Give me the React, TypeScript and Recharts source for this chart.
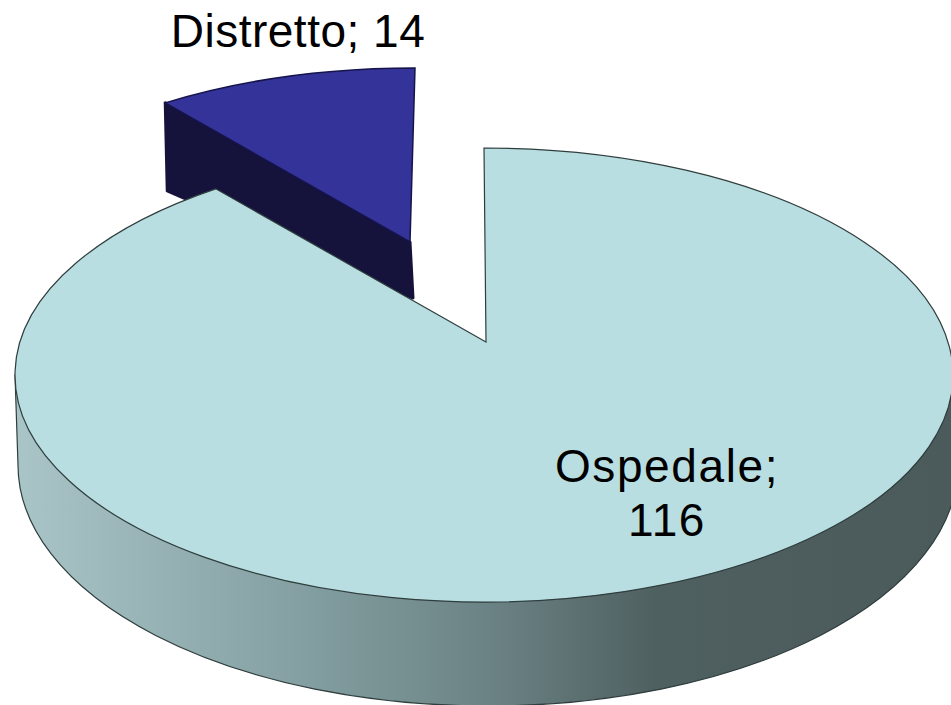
import React from 'react';
import { PieChart, Pie } from 'recharts';

const categories = ['Distretto', 'Ospedale'];
const values = [14, 116];
const rows = categories.map((name, i) => ({ name, value: values[i] }));

const WIDTH = 951;
const HEIGHT = 705;
const CX = 484;
const CY = 375;
const RADIUS = 469;
const TILT = 227 / 469;
const FONT = '"Liberation Sans", Arial, sans-serif';

// start of the pie: the smaller slice is drawn first so the larger one overlaps it
const total = values.reduce((a, b) => a + b, 0);
const START_ANGLE = 90 - (360 * values[1]) / total;

const Distretto = {
  dx: -69, dy: -80, apexX: -5, apexY: -53, warp: 0.83,
  face: '#333399', wall: '#15133c', stroke: '#16144a',
  depthCorner: 88, depthApex: 56,
};
const Ospedale = {
  dx: 0, dy: 0, apexX: 2, apexY: -33, warp: 0.9,
  face: '#b8dee1', stroke: '#2f3d3d',
};

const norm = (start: number, end: number) => {
  let a = Math.round((90 - start) * 1000) / 1000;
  let b = Math.round((90 - end) * 1000) / 1000;
  while (a >= 360) { a -= 360; b -= 360; }
  while (a < 0) { a += 360; b += 360; }
  return [a, b];
};

const Slice = (props: any) => {
  const { cx, cy, outerRadius, startAngle, endAngle, name } = props;
  const g: any = name === 'Distretto' ? Distretto : Ospedale;
  const rx = outerRadius;
  const ry = outerRadius * TILT;
  const [t0, t1] = norm(startAngle, endAngle);
  const warp = (t: number) => (t <= 0 ? 0 : t >= 360 ? 360 : 360 - (360 - t) * g.warp);
  const ex = cx + g.dx;
  const ey = cy + g.dy;
  const pt = (t: number) => {
    const r = (t * Math.PI) / 180;
    return [ex + rx * Math.sin(r), ey - ry * Math.cos(r)];
  };
  const apex = [ex + g.apexX, ey + g.apexY];
  const s = pt(warp(t0));
  const e = pt(warp(t1));

  if (g === Distretto) {
    return (
      <g>
        <path
          d={`M${s[0]},${s[1]} L${apex[0]},${apex[1]} L${apex[0] + 3},${apex[1] + g.depthApex} L${s[0] + 2},${s[1] + g.depthCorner} Z`}
          fill={g.wall}
          stroke={g.wall}
          strokeWidth={3}
          strokeLinejoin="round"
        />
        <path
          d={`M${apex[0]},${apex[1]} L${s[0]},${s[1]} A${rx},${ry} 0 0 1 ${e[0]},${e[1]} Z`}
          fill={g.face}
          stroke={g.stroke}
          strokeWidth={1.5}
        />
      </g>
    );
  }

  const wy = cy + 90;
  const wrx = rx + 1;
  const wry = 241;
  const wcx = cx + 4;
  return (
    <g>
      <defs>
        <linearGradient id="wallShade" x1="0" y1="0" x2="1" y2="0">
          <stop offset="0" stopColor="#a9c5c7" />
          <stop offset="0.3" stopColor="#84a0a2" />
          <stop offset="0.5" stopColor="#6c8385" />
          <stop offset="0.68" stopColor="#4f6060" />
          <stop offset="1" stopColor="#4b5a5a" />
        </linearGradient>
      </defs>
      <path
        d={`M${cx - rx},${cy} L${wcx - wrx},${wy} A${wrx},${wry} 0 0 0 ${wcx + wrx},${wy} L${cx + rx},${cy} Z`}
        fill="url(#wallShade)"
        stroke={g.stroke}
        strokeWidth={1.2}
      />
      <path
        d={`M${apex[0]},${apex[1]} L${s[0]},${s[1]} A${rx},${ry} 0 1 1 ${e[0]},${e[1]} Z`}
        fill={g.face}
        stroke={g.stroke}
        strokeWidth={1.2}
      />
    </g>
  );
};

const SliceLabel = (props: any) => {
  const { name, value, cx, cy } = props;
  if (name === 'Distretto') {
    return (
      <text x={cx - 186} y={cy - 328} textAnchor="middle" fontFamily={FONT} fontSize={46} letterSpacing={0.5} fill="#000">
        {`${name}; ${value}`}
      </text>
    );
  }
  return (
    <text x={cx + 183} textAnchor="middle" fontFamily={FONT} fontSize={46} letterSpacing={1.6} fill="#000">
      <tspan x={cx + 183} y={cy + 107}>{`${name};`}</tspan>
      <tspan x={cx + 183} y={cy + 161}>{value}</tspan>
    </text>
  );
};

export default function App() {
  return (
    <div style={{ position: 'absolute', left: 0, top: 0, width: WIDTH, height: HEIGHT, overflow: 'hidden', background: '#fff' }}>
      <PieChart width={WIDTH} height={HEIGHT} margin={{ top: 0, right: 0, bottom: 0, left: 0 }}>
        <Pie
          data={rows}
          dataKey="value"
          nameKey="name"
          cx={CX}
          cy={CY}
          innerRadius={0}
          outerRadius={RADIUS}
          startAngle={START_ANGLE}
          endAngle={START_ANGLE - 360}
          paddingAngle={0}
          stroke="none"
          shape={Slice}
          label={SliceLabel}
          labelLine={false}
          isAnimationActive={false}
        />
      </PieChart>
    </div>
  );
}
